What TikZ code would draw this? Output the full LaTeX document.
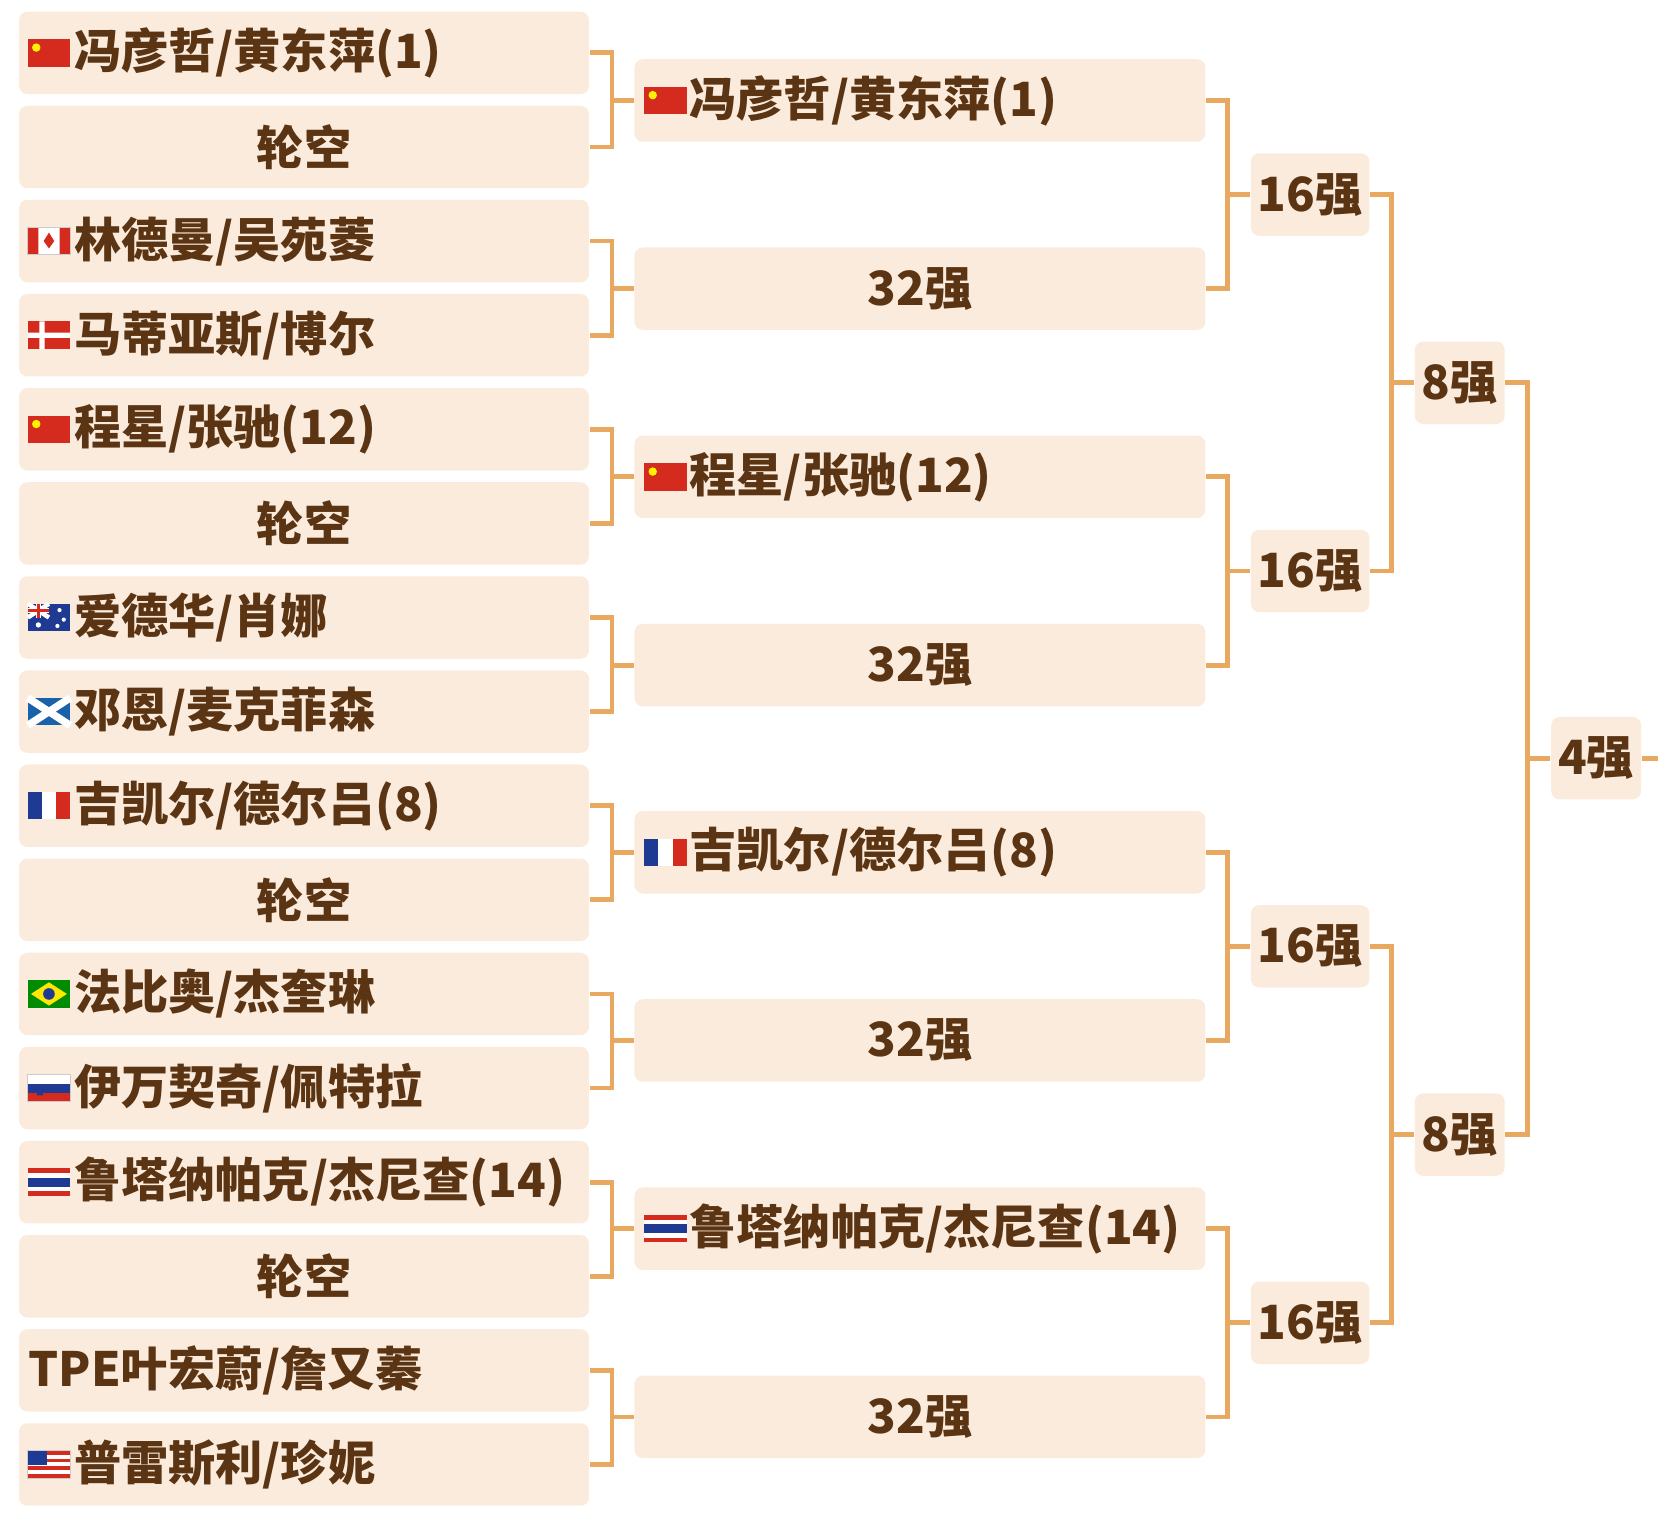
\documentclass[tikz,border=0pt]{standalone}
\usepackage{fontspec}
\setmainfont{Noto Sans CJK SC}
\definecolor{boxfill}{HTML}{FAEBDC}
\definecolor{linkcol}{HTML}{E9A860}
\definecolor{txtcol}{HTML}{5A3413}
\definecolor{fred}{HTML}{D52B1E}
\definecolor{fblue}{HTML}{1F3A93}
\tikzset{
  box/.style={fill=boxfill, rounded corners=0.08cm, minimum height=0.78cm,
    inner xsep=0pt, inner ysep=0pt, text=txtcol, font=\fontsize{12.7}{13}\selectfont\bfseries},
  p1/.style={box, text width=5.39cm},
  p2/.style={box, text width=5.40cm},
  player/.style={align=left, execute at begin node=\hspace*{0.52cm}},
  tpe/.style={align=left, execute at begin node=\hspace*{0.09cm}},
  bye/.style={align=center},
  rnd/.style={box, align=center},
  link/.style={draw=linkcol, line width=1.3pt},
  fbase/.style={draw=gray!40, line width=0.2pt},
  cn/.pic={\fill[fred] (-0.2,-0.13) rectangle (0.2,0.13);
    \fill[yellow] (-0.12,0.05) circle (0.04);},
  ca/.pic={\fill[white] (-0.2,-0.13) rectangle (0.2,0.13);
    \fill[fred] (-0.2,-0.13) rectangle (-0.1,0.13) (0.1,-0.13) rectangle (0.2,0.13);
    \fill[fred] (0,0.08) -- (0.05,0) -- (0,-0.07) -- (-0.05,0) -- cycle;
    \draw[fbase] (-0.2,-0.13) rectangle (0.2,0.13);},
  dk/.pic={\fill[fred] (-0.2,-0.13) rectangle (0.2,0.13);
    \fill[white] (-0.09,-0.13) rectangle (-0.04,0.13) (-0.2,-0.025) rectangle (0.2,0.025);},
  au/.pic={\fill[fblue] (-0.2,-0.13) rectangle (0.2,0.13);
    \draw[white, line width=1.2pt] (-0.2,0.13) -- (0,0) (-0.2,0) -- (0,0.13);
    \draw[white, line width=1.5pt] (-0.1,0) -- (-0.1,0.13) (-0.2,0.065) -- (0,0.065);
    \draw[fred, line width=0.7pt] (-0.1,0) -- (-0.1,0.13) (-0.2,0.065) -- (0,0.065);
    \fill[white] (-0.1,-0.07) circle (0.025) (0.1,0.07) circle (0.02) (0.14,-0.02) circle (0.02) (0.08,-0.08) circle (0.02);},
  sct/.pic={\fill[fblue!80!cyan] (-0.2,-0.13) rectangle (0.2,0.13);
    \draw[white, line width=2pt] (-0.2,-0.13) -- (0.2,0.13) (-0.2,0.13) -- (0.2,-0.13);},
  fr/.pic={\fill[fblue] (-0.2,-0.13) rectangle (-0.067,0.13);
    \fill[white] (-0.067,-0.13) rectangle (0.067,0.13);
    \fill[fred] (0.067,-0.13) rectangle (0.2,0.13);},
  br/.pic={\fill[green!55!black] (-0.2,-0.13) rectangle (0.2,0.13);
    \fill[yellow!90!orange] (-0.17,0) -- (0,0.11) -- (0.17,0) -- (0,-0.11) -- cycle;
    \fill[fblue] (0,0) circle (0.055);},
  si/.pic={\fill[white] (-0.2,0.043) rectangle (0.2,0.13);
    \fill[fblue] (-0.2,-0.043) rectangle (0.2,0.043);
    \fill[fred] (-0.2,-0.13) rectangle (0.2,-0.043);
    \fill[fblue] (-0.13,0.02) -- (-0.04,0.02) -- (-0.06,-0.07) -- (-0.11,-0.07) -- cycle;
    \draw[fbase] (-0.2,-0.13) rectangle (0.2,0.13);},
  th/.pic={\fill[fred] (-0.2,-0.13) rectangle (0.2,0.13);
    \fill[white] (-0.2,-0.087) rectangle (0.2,0.087);
    \fill[fblue] (-0.2,-0.043) rectangle (0.2,0.043);},
  us/.pic={\fill[white] (-0.2,-0.13) rectangle (0.2,0.13);
    \foreach \s in {0,...,3}{\fill[fred] (-0.2,0.13-\s*0.074) rectangle (0.2,0.13-\s*0.074-0.037);}
    \fill[fblue] (-0.2,0) rectangle (-0.02,0.13);
    \draw[fbase] (-0.2,-0.13) rectangle (0.2,0.13);},
}
\begin{document}
\begin{tikzpicture}
\useasboundingbox (0,0) rectangle (15.68,-14.30);
% round of 64
\node[p1,player] (a1) at (2.875,-0.50) {冯彦哲/黄东萍(1)};
\node[p1,bye] (a2) at (2.875,-1.39) {轮空};
\node[p1,player] (a3) at (2.875,-2.28) {林德曼/吴苑菱};
\node[p1,player] (a4) at (2.875,-3.17) {马蒂亚斯/博尔};
\node[p1,player] (a5) at (2.875,-4.06) {程星/张驰(12)};
\node[p1,bye] (a6) at (2.875,-4.95) {轮空};
\node[p1,player] (a7) at (2.875,-5.84) {爱德华/肖娜};
\node[p1,player] (a8) at (2.875,-6.73) {邓恩/麦克菲森};
\node[p1,player] (a9) at (2.875,-7.62) {吉凯尔/德尔吕(8)};
\node[p1,bye] (a10) at (2.875,-8.51) {轮空};
\node[p1,player] (a11) at (2.875,-9.40) {法比奥/杰奎琳};
\node[p1,player] (a12) at (2.875,-10.29) {伊万契奇/佩特拉};
\node[p1,player] (a13) at (2.875,-11.18) {鲁塔纳帕克/杰尼查(14)};
\node[p1,bye] (a14) at (2.875,-12.07) {轮空};
\node[p1,tpe] (a15) at (2.875,-12.96) {TPE叶宏蔚/詹又蓁};
\node[p1,player] (a16) at (2.875,-13.85) {普雷斯利/珍妮};
% round of 32
\node[p2,player] (b1) at (8.70,-0.95) {冯彦哲/黄东萍(1)};
\node[p2,bye] (b2) at (8.70,-2.73) {32强};
\node[p2,player] (b3) at (8.70,-4.51) {程星/张驰(12)};
\node[p2,bye] (b4) at (8.70,-6.29) {32强};
\node[p2,player] (b5) at (8.70,-8.06) {吉凯尔/德尔吕(8)};
\node[p2,bye] (b6) at (8.70,-9.84) {32强};
\node[p2,player] (b7) at (8.70,-11.62) {鲁塔纳帕克/杰尼查(14)};
\node[p2,bye] (b8) at (8.70,-13.40) {32强};
% later rounds
\node[rnd,minimum width=1.12cm] (c1) at (12.39,-1.84) {16强};
\node[rnd,minimum width=1.12cm] (c2) at (12.39,-5.40) {16强};
\node[rnd,minimum width=1.12cm] (c3) at (12.39,-8.95) {16强};
\node[rnd,minimum width=1.12cm] (c4) at (12.39,-12.51) {16强};
\node[rnd,minimum width=0.85cm] (d1) at (13.805,-3.62) {8强};
\node[rnd,minimum width=0.85cm] (d2) at (13.805,-10.73) {8强};
\node[rnd,minimum width=0.85cm] (e1) at (15.095,-7.17) {4强};
\coordinate (out) at (15.68,-7.17);
% flags
\pic at ([xshift=0.29cm]a1.west) {cn};
\pic at ([xshift=0.29cm]a3.west) {ca};
\pic at ([xshift=0.29cm]a4.west) {dk};
\pic at ([xshift=0.29cm]a5.west) {cn};
\pic at ([xshift=0.29cm]a7.west) {au};
\pic at ([xshift=0.29cm]a8.west) {sct};
\pic at ([xshift=0.29cm]a9.west) {fr};
\pic at ([xshift=0.29cm]a11.west) {br};
\pic at ([xshift=0.29cm]a12.west) {si};
\pic at ([xshift=0.29cm]a13.west) {th};
\pic at ([xshift=0.29cm]a16.west) {us};
\pic at ([xshift=0.30cm]b1.west) {cn};
\pic at ([xshift=0.30cm]b3.west) {cn};
\pic at ([xshift=0.30cm]b5.west) {fr};
\pic at ([xshift=0.30cm]b7.west) {th};
% connectors
\foreach \i in {1,...,8}{
  \pgfmathtruncatemacro\j{2*\i-1}\pgfmathtruncatemacro\k{2*\i}
  \draw[link] (a\j.east) -- ++(0.21,0) |- (a\k.east);
  \draw[link] (b\i.west) -- ++(-0.22,0);
}
\foreach \i in {1,...,4}{
  \pgfmathtruncatemacro\j{2*\i-1}\pgfmathtruncatemacro\k{2*\i}
  \draw[link] (b\j.east) -- ++(0.20,0) |- (b\k.east);
  \draw[link] (c\i.west) -- ++(-0.23,0);
}
\foreach \i in {1,2}{
  \pgfmathtruncatemacro\j{2*\i-1}\pgfmathtruncatemacro\k{2*\i}
  \draw[link] (c\j.east) -- ++(0.20,0) |- (c\k.east);
  \draw[link] (d\i.west) -- ++(-0.23,0);
}
\draw[link] (d1.east) -- ++(0.21,0) |- (d2.east);
\draw[link] (e1.west) -- ++(-0.23,0);
\draw[link] (e1.east) -- (out);
\end{tikzpicture}
\end{document}
